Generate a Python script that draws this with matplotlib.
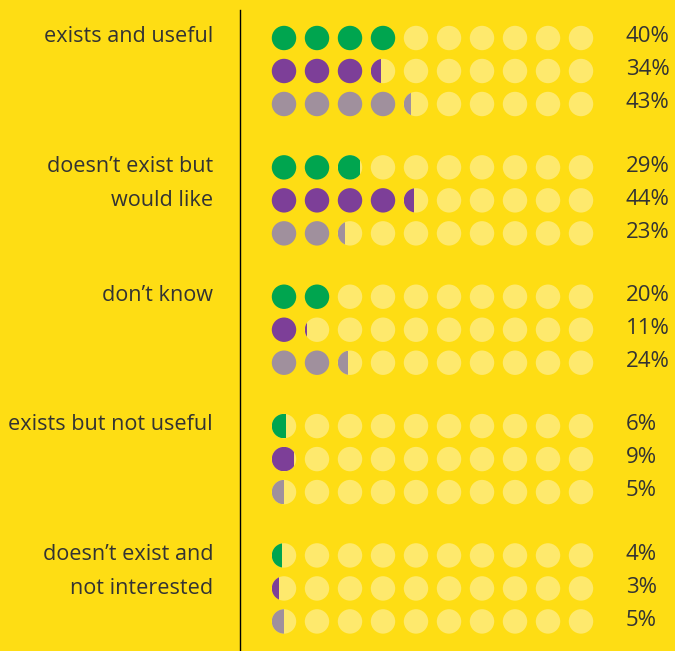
import numpy as np
import matplotlib
matplotlib.use("Agg")
import matplotlib.pyplot as plt
from matplotlib.patches import Circle, Rectangle

categories = ["exists and useful", "doesn\u2019t exist but\nwould like", "don\u2019t know",
              "exists but not useful", "doesn\u2019t exist and\nnot interested"]
green_pct = [40, 29, 20, 6, 4]
purple_pct = [34, 44, 11, 9, 3]
gray_pct = [43, 23, 24, 5, 5]

series = [green_pct, purple_pct, gray_pct]
colors = ["#00a54f", "#7d3f98", "#a0909d"]
bg = "#fedd14"
empty = "#fee96d"
text_col = "#333333"

n_dots = 10
r = 0.37
group_step = 3.92

fig = plt.figure(figsize=(6.75, 6.51), dpi=100, facecolor=bg)
ax = fig.add_axes([0, 0, 1, 1])
ax.set_facecolor(bg)
ax.set_xlim(-284 / 33, (675 - 284) / 33)
ax.set_ylim((651 - 38) / 33, -38 / 33)
ax.axis("off")

plt.rcParams["font.family"] = ["Open Sans", "DejaVu Sans"]

for g, cat in enumerate(categories):
    y0 = g * group_step
    lines = cat.split("\n")
    for k, line in enumerate(lines):
        ax.text(-2.15, y0 + k * 1.03 - 0.04, line, ha="right", va="center",
                fontsize=15.6, color=text_col)
    for s, vals in enumerate(series):
        y = y0 + s
        p = vals[g]
        full = p // 10
        frac = (p % 10) / 10
        for i in range(n_dots):
            if i < full:
                ax.add_patch(Circle((i, y), r, color=colors[s], lw=0))
            else:
                ax.add_patch(Circle((i, y), r, color=empty, lw=0))
                if i == full and frac > 0:
                    c = Circle((i, y), r, color=colors[s], lw=0)
                    ax.add_patch(c)
                    clip = Rectangle((i - r, y - r), 2 * r * frac, 2 * r,
                                     transform=ax.transData)
                    c.set_clip_path(clip)
        ax.text(10.36, y - 0.04, f"{p}%", ha="left", va="center",
                fontsize=16, color=text_col)

ax.plot([-1.333, -1.333], [-0.85, 20], color="black", lw=1)

fig.savefig("out.png", dpi=100, facecolor=bg)
